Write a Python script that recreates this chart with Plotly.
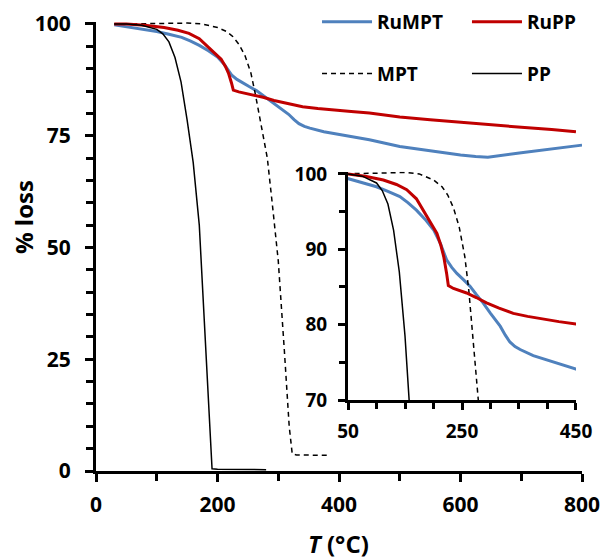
import plotly.graph_objects as go

# ---- data ----
T_RuMPT = [30, 50, 75, 100, 120, 141, 155, 170, 185, 200, 212, 223, 232, 241, 252, 264, 275, 287,
           300, 317, 326, 334, 343, 352, 375, 400, 425, 450, 500, 550, 600, 625, 645, 700, 750, 800]
RuMPT = [99.8, 99.4, 98.9, 98.3, 97.7, 97.0, 96.2, 95.2, 94.0, 92.6, 90.8, 88.6, 87.6, 86.8, 86.0, 85.1,
         84.0, 82.9, 81.5, 79.8, 78.6, 77.7, 77.1, 76.7, 75.9, 75.3, 74.7, 74.1, 72.6, 71.6, 70.7, 70.35,
         70.2, 71.2, 72.0, 72.9]

T_RuPP = [30, 50, 80, 112, 135, 153, 170, 182, 195, 206, 213, 218, 223, 226, 235, 258, 275, 293, 315,
          340, 365, 393, 420, 450, 500, 550, 600, 650, 700, 750, 790]
RuPP = [100, 100, 99.7, 99.2, 98.6, 97.9, 96.7, 95.2, 93.6, 92.1, 90.5, 89.0, 86.8, 85.2, 84.8, 84.2,
        83.6, 82.9, 82.2, 81.5, 81.1, 80.7, 80.4, 80.1, 79.2, 78.6, 78.0, 77.4, 76.9, 76.4, 75.9]

T_MPT = [30, 50, 100, 150, 175, 200, 215, 225, 235, 245, 255, 262, 268, 275, 282, 290, 300, 310, 318,
         323, 330, 385]
MPT = [100, 100, 100.1, 100.2, 100, 99.2, 98.3, 97.2, 95.5, 93, 89, 84.5, 80, 75, 70, 60, 47, 27, 10,
       3.8, 3.6, 3.5]

T_PP = [30, 50, 75, 100, 110, 120, 130, 140, 150, 160, 170, 180, 186, 191, 200, 280]
PP = [100, 100, 99.7, 98.8, 97.8, 96, 92.5, 87, 78.5, 69, 55, 30, 15, 0.5, 0.4, 0.3]

BLUE = "#4F81BD"
RED = "#C00000"
FONT = "Open Sans"

series = [
    ("RuMPT", T_RuMPT, RuMPT, dict(color=BLUE, width=3), "legend"),
    ("MPT", T_MPT, MPT, dict(color="black", width=1.5, dash="5px,4px"), "legend"),
    ("RuPP", T_RuPP, RuPP, dict(color=RED, width=3), "legend2"),
    ("PP", T_PP, PP, dict(color="black", width=1.5), "legend2"),
]

fig = go.Figure()
for name, xs, ys, line, lg in series:
    fig.add_trace(go.Scatter(x=xs, y=ys, mode="lines", name=name, line=line,
                             legend=lg, legendgroup=name, xaxis="x", yaxis="y"))
for name, xs, ys, line, lg in series:
    fig.add_trace(go.Scatter(x=xs, y=ys, mode="lines", name=name, line=line,
                             showlegend=False, xaxis="x2", yaxis="y2"))

axis_common = dict(showline=True, linecolor="black", linewidth=3, ticks="outside",
                   tickcolor="black", tickwidth=3, showgrid=False, zeroline=False,
                   automargin=False)

legend_common = dict(yanchor="top", xanchor="left", bgcolor="rgba(0,0,0,0)",
                     font=dict(family=FONT, size=19, color="black", weight="bold"),
                     tracegroupgap=24, itemwidth=50)

fig.update_layout(
    template="none",
    width=602, height=559,
    margin=dict(l=0, r=0, t=0, b=0),
    paper_bgcolor="white", plot_bgcolor="rgba(0,0,0,0)",
    xaxis=dict(domain=[0.1595, 0.9668], anchor="y", range=[0, 800], tick0=0, dtick=200, ticklen=8,
               minor=dict(dtick=100, ticks="outside", ticklen=7, tickwidth=3, tickcolor="black"),
               tickfont=dict(family=FONT, size=21, color="black", weight="bold"),
               ticklabelstandoff=5, **axis_common),
    yaxis=dict(domain=[0.1574, 0.9611], anchor="x", range=[0, 100.5], tick0=0, dtick=25, ticklen=8,
               minor=dict(dtick=5, ticks="outside", ticklen=7, tickwidth=3, tickcolor="black"),
               tickfont=dict(family=FONT, size=21, color="black", weight="bold"),
               ticklabelstandoff=10, **axis_common),
    xaxis2=dict(domain=[0.5781, 0.9568], anchor="y2", range=[50, 450], tick0=50, dtick=200,
                ticklen=7,
                minor=dict(dtick=50, ticks="outside", ticklen=6, tickwidth=3, tickcolor="black"),
                tickfont=dict(family=FONT, size=19, color="black", weight="bold"),
                ticklabelstandoff=5, **axis_common),
    yaxis2=dict(domain=[0.2844, 0.6929], anchor="x2", range=[70, 100.3], tick0=70, dtick=10,
                ticklen=7,
                minor=dict(dtick=5, ticks="outside", ticklen=6, tickwidth=3, tickcolor="black"),
                tickfont=dict(family=FONT, size=19, color="black", weight="bold"),
                ticklabelstandoff=7, **axis_common),
    legend=dict(x=0.5266, y=0.9946, **legend_common),
    legend2=dict(x=0.7757, y=0.9946, **legend_common),
    annotations=[
        dict(text="% loss", x=0.0382, y=0.6118, xref="paper", yref="paper", showarrow=False,
             textangle=-90, font=dict(family=FONT, size=24, color="black", weight="bold"),
             xanchor="center", yanchor="middle"),
        dict(text="<i>T</i> (°C)", x=0.5631, y=0.0286, xref="paper", yref="paper", showarrow=False,
             font=dict(family=FONT, size=24, color="black", weight="bold"),
             xanchor="center", yanchor="middle"),
    ],
    showlegend=True,
)

fig.write_html("out.html", config={"displayModeBar": False},
               post_script="document.body.style.margin='0';")
